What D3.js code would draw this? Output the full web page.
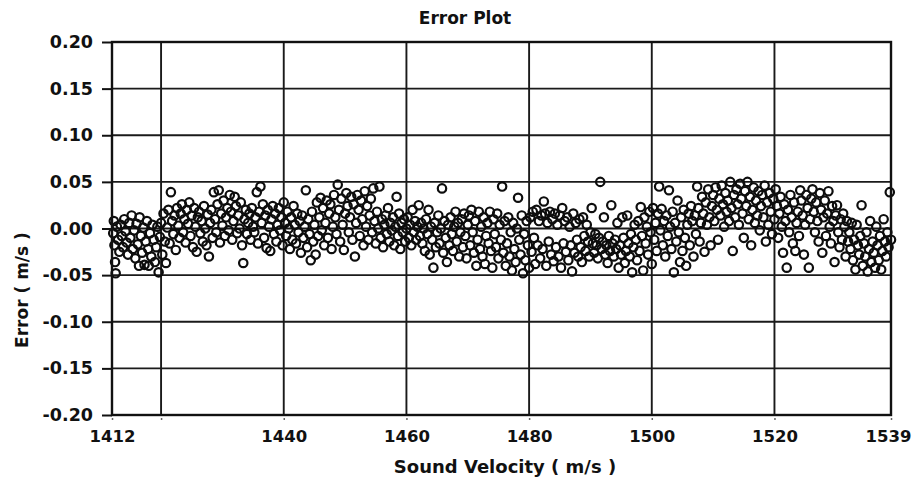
<!DOCTYPE html>
<html>
<head>
<meta charset="utf-8">
<script src="https://cdn.jsdelivr.net/npm/d3@7"></script>
<style>
  body { margin: 0; background: #fff; }
  svg text { font-family: "DejaVu Sans", Verdana, sans-serif; font-weight: bold; fill: #111; }
</style>
</head>
<body>
<svg id="chart" width="914" height="479"></svg>
<script>
// chart text
const chartTitle = "Error Plot";
const xTitle = "Sound Velocity ( m/s )";
const yTitle = "Error ( m/s )";

// axes
const xDomain = [1412, 1539];
const xTickMarks = [1412, 1420, 1440, 1460, 1480, 1500, 1520, 1539];
const xTickLabels = [1412, 1440, 1460, 1480, 1500, 1520, 1539];
const xGrid = [1420, 1440, 1460, 1480, 1500, 1520];
const yTicks = [0.20, 0.15, 0.10, 0.05, 0.00, -0.05, -0.10, -0.15, -0.20];

// [sound velocity, error]
const samples = [
  [1412.2,-0.005],[1412.3,0.008],[1412.4,-0.018],[1412.5,-0.036],[1412.6,-0.048],[1412.8,0.002],[1413.0,-0.012],[1413.2,-0.025],[1413.4,0.004],[1413.6,-0.008],[1413.8,-0.02],[1414.0,0.010],
  [1414.2,-0.003],[1414.4,-0.015],[1414.6,-0.028],[1414.8,0.006],[1415.0,-0.01],[1415.2,0.014],[1415.4,-0.022],[1415.6,-0.002],[1415.8,-0.032],[1416.0,0.005],
  [1416.2,-0.017],[1416.4,-0.04],[1416.5,0.012],[1416.7,-0.008],[1416.9,-0.026],[1417.1,0.001],[1417.3,-0.039],[1417.5,-0.014],[1417.7,0.008],[1417.9,-0.022],[1418.0,-0.04],
  [1418.2,-0.005],[1418.4,-0.03],[1418.6,0.004],[1418.8,-0.012],[1419.0,-0.036],[1419.2,-0.02],[1419.4,0.002],[1419.6,-0.047],[1419.8,-0.009],[1420.0,0.006],
  [1420.2,-0.028],[1420.4,0.016],[1420.6,-0.014],[1420.8,-0.037],[1421.0,0.001],[1421.2,0.02],[1421.4,-0.016],[1421.6,0.039],[1421.8,0.008],[1422.0,-0.006],
  [1422.2,0.014],[1422.4,-0.023],[1422.6,0.022],[1422.8,0.003],[1423.0,-0.01],[1423.2,0.016],[1423.4,0.026],[1423.6,-0.004],[1423.8,0.01],[1424.0,-0.015],
  [1424.2,0.02],[1424.4,0.005],[1424.6,0.028],[1424.8,-0.008],[1425.0,0.014],[1425.2,-0.02],[1425.4,0.022],[1425.6,0.002],[1425.8,-0.025],[1426.0,0.012],
  [1426.2,0.018],[1426.4,-0.005],[1426.6,0.008],[1426.8,-0.014],[1427.0,0.024],[1427.2,0.0],[1427.4,-0.018],[1427.6,0.015],[1427.8,-0.03],[1428.0,0.006],
  [1428.2,0.02],[1428.4,-0.01],[1428.6,0.039],[1428.8,0.01],[1429.0,-0.004],[1429.2,0.026],[1429.4,0.041],[1429.6,-0.015],[1429.8,0.016],[1430.0,0.003],
  [1430.2,0.03],[1430.4,-0.008],[1430.6,0.012],[1430.8,0.022],[1431.0,-0.002],[1431.2,0.036],[1431.4,0.018],[1431.6,-0.012],[1431.8,0.008],[1432.0,0.034],
  [1432.2,0.024],[1432.4,-0.005],[1432.6,0.014],[1432.8,0.0],[1433.0,0.028],[1433.2,-0.018],[1433.4,-0.037],[1433.6,0.01],[1433.8,0.02],[1434.0,-0.006],
  [1434.2,0.006],[1434.4,0.016],[1434.6,-0.012],[1434.8,0.022],[1435.0,0.002],[1435.2,-0.004],[1435.4,0.012],[1435.6,0.039],[1435.8,-0.016],[1436.0,0.018],
  [1436.2,0.045],[1436.4,0.006],[1436.6,0.026],[1436.8,-0.01],[1437.0,0.014],[1437.2,-0.021],[1437.4,0.02],[1437.6,0.002],[1437.8,-0.024],[1438.0,0.01],
  [1438.2,0.024],[1438.4,-0.006],[1438.6,0.016],[1438.8,-0.014],[1439.0,0.004],[1439.2,0.022],[1439.4,-0.002],[1439.6,0.012],[1439.8,-0.018],[1440.0,0.028],
  [1440.2,0.006],[1440.4,-0.008],[1440.6,0.018],[1440.8,0.0],[1441.0,-0.022],[1441.2,0.012],[1441.4,-0.012],[1441.6,0.024],[1441.8,0.004],[1442.0,-0.016],
  [1442.2,0.016],[1442.4,-0.004],[1442.6,0.008],[1442.8,-0.026],[1443.0,0.014],[1443.2,-0.01],[1443.4,0.002],[1443.6,0.041],[1443.8,-0.02],[1444.0,0.01],
  [1444.2,-0.006],[1444.4,-0.034],[1444.6,0.018],[1444.8,-0.014],[1445.0,0.004],[1445.2,-0.028],[1445.4,0.028],[1445.6,-0.008],[1445.8,0.012],[1446.0,0.033],
  [1446.2,-0.002],[1446.4,0.022],[1446.6,-0.018],[1446.8,0.006],[1447.0,0.03],[1447.2,-0.01],[1447.4,0.016],[1447.6,0.026],[1447.8,-0.022],[1448.0,0.002],
  [1448.2,0.036],[1448.4,0.012],[1448.6,-0.006],[1448.8,0.047],[1449.0,0.02],[1449.2,-0.014],[1449.4,0.032],[1449.6,0.004],[1449.8,-0.023],[1450.0,0.016],
  [1450.2,0.038],[1450.4,0.024],[1450.6,-0.004],[1450.8,0.012],[1451.0,0.034],[1451.2,-0.012],[1451.4,0.026],[1451.6,-0.03],[1451.8,0.006],[1452.0,0.036],
  [1452.2,0.02],[1452.4,-0.008],[1452.6,0.03],[1452.8,0.01],[1453.0,-0.018],[1453.2,0.04],[1453.4,0.002],[1453.6,0.024],[1453.8,-0.012],[1454.0,0.014],
  [1454.2,0.032],[1454.4,-0.004],[1454.6,0.043],[1454.8,0.008],[1455.0,-0.016],[1455.2,0.018],[1455.4,0.0],[1455.6,0.045],[1455.8,-0.01],[1456.0,0.01],
  [1456.2,-0.02],[1456.4,0.004],[1456.6,0.014],[1456.8,-0.006],[1457.0,0.022],[1457.2,-0.014],[1457.4,0.006],[1457.6,-0.002],[1457.8,0.012],[1458.0,-0.018],
  [1458.2,0.002],[1458.4,0.034],[1458.6,-0.008],[1458.8,0.016],[1459.0,-0.022],[1459.2,0.006],[1459.4,-0.004],[1459.6,0.01],[1459.8,-0.014],[1460.0,0.0],
  [1460.2,0.012],[1460.4,-0.01],[1460.6,0.004],[1460.8,-0.018],[1461.0,0.02],[1461.2,-0.004],[1461.4,0.008],[1461.6,-0.012],[1461.8,0.002],[1462.0,0.025],
  [1462.2,-0.008],[1462.4,0.006],[1462.6,-0.016],[1462.8,0.0],[1463.0,-0.024],[1463.2,0.01],[1463.4,-0.006],[1463.6,0.02],[1463.8,-0.028],[1464.0,0.002],
  [1464.2,-0.012],[1464.4,-0.042],[1464.6,0.006],[1464.8,-0.02],[1465.0,-0.004],[1465.2,0.014],[1465.4,-0.016],[1465.6,0.0],[1465.8,0.043],[1466.0,-0.026],
  [1466.2,0.008],[1466.4,-0.01],[1466.6,-0.036],[1466.8,0.004],[1467.0,-0.018],[1467.2,0.012],[1467.4,-0.006],[1467.6,-0.024],[1467.8,0.002],[1468.0,0.018],
  [1468.2,-0.014],[1468.4,0.006],[1468.6,-0.03],[1468.8,-0.004],[1469.0,0.01],[1469.2,-0.02],[1469.4,0.016],[1469.6,-0.008],[1469.8,-0.032],[1470.0,0.004],
  [1470.2,0.014],[1470.4,-0.018],[1470.6,0.02],[1470.8,-0.004],[1471.0,-0.026],[1471.2,0.008],[1471.4,-0.04],[1471.6,-0.012],[1471.8,0.018],[1472.0,-0.022],
  [1472.2,0.002],[1472.4,-0.03],[1472.6,0.012],[1472.8,-0.038],[1473.0,-0.008],[1473.2,0.006],[1473.4,-0.016],[1473.6,0.018],[1473.8,-0.024],[1474.0,-0.042],
  [1474.2,0.01],[1474.4,-0.006],[1474.6,-0.02],[1474.8,0.016],[1475.0,-0.032],[1475.2,0.004],[1475.4,-0.012],[1475.6,0.045],[1475.8,-0.026],[1476.0,0.008],
  [1476.2,-0.04],[1476.4,-0.016],[1476.6,0.012],[1476.8,-0.03],[1477.0,-0.004],[1477.2,-0.045],[1477.4,0.006],[1477.6,-0.022],[1477.8,-0.036],[1478.0,0.0],
  [1478.2,0.033],[1478.4,-0.012],[1478.6,-0.028],[1478.8,0.014],[1479.0,-0.048],[1479.2,-0.006],[1479.4,-0.034],[1479.6,0.008],[1479.8,-0.018],[1480.0,-0.042],
  [1480.2,0.012],[1480.4,-0.025],[1480.6,0.018],[1480.8,-0.01],[1481.0,-0.038],[1481.2,0.02],[1481.4,-0.018],[1481.6,0.008],[1481.8,-0.032],[1482.0,0.014],
  [1482.2,-0.022],[1482.4,0.029],[1482.6,0.016],[1482.8,-0.04],[1483.0,0.006],[1483.2,-0.014],[1483.4,0.018],[1483.6,-0.028],[1483.8,0.01],[1484.0,-0.035],
  [1484.2,0.016],[1484.4,-0.02],[1484.6,0.004],[1484.8,-0.03],[1485.0,0.014],[1485.2,-0.042],[1485.4,0.022],[1485.6,-0.016],[1485.8,0.008],[1486.0,-0.025],
  [1486.2,0.012],[1486.4,-0.034],[1486.6,0.002],[1486.8,-0.018],[1487.0,-0.046],[1487.2,0.016],[1487.4,-0.026],[1487.6,0.006],[1487.8,-0.012],[1488.0,-0.03],
  [1488.2,0.01],[1488.4,-0.02],[1488.6,-0.036],[1488.8,0.012],[1489.0,-0.008],[1489.2,-0.024],[1489.4,0.004],[1489.6,-0.014],[1489.8,-0.03],[1490.0,-0.004],
  [1490.2,0.022],[1490.4,-0.016],[1490.6,-0.026],[1490.8,-0.006],[1491.0,-0.018],[1491.2,-0.032],[1491.4,-0.01],[1491.6,0.05],[1491.8,-0.022],[1492.0,-0.014],
  [1492.2,0.012],[1492.4,-0.028],[1492.6,-0.018],[1492.8,-0.037],[1493.0,-0.008],[1493.2,-0.024],[1493.4,0.025],[1493.6,-0.016],[1493.8,-0.03],[1494.0,-0.012],
  [1494.2,-0.022],[1494.4,0.006],[1494.6,-0.042],[1494.8,-0.018],[1495.0,-0.028],[1495.2,0.012],[1495.4,-0.01],[1495.6,-0.037],[1495.8,-0.024],[1496.0,0.014],
  [1496.2,-0.016],[1496.4,-0.03],[1496.6,-0.006],[1496.8,-0.047],[1497.0,-0.02],[1497.2,0.004],[1497.4,-0.012],[1497.6,-0.034],[1497.8,0.008],[1498.0,-0.024],
  [1498.2,0.023],[1498.4,-0.008],[1498.6,-0.045],[1498.8,0.012],[1499.0,-0.016],[1499.2,0.002],[1499.4,-0.028],[1499.6,0.018],[1499.8,-0.004],[1500.0,-0.038],
  [1500.2,0.022],[1500.4,-0.012],[1500.6,0.006],[1500.8,-0.024],[1501.0,0.016],[1501.2,0.045],[1501.4,-0.002],[1501.6,0.021],[1501.8,-0.018],[1502.0,0.008],
  [1502.2,-0.03],[1502.4,0.014],[1502.6,-0.008],[1502.8,0.041],[1503.0,0.002],[1503.2,-0.022],[1503.4,0.018],[1503.6,-0.047],[1503.8,0.006],[1504.0,-0.014],
  [1504.2,0.03],[1504.4,-0.004],[1504.6,-0.036],[1504.8,0.012],[1505.0,-0.024],[1505.2,0.02],[1505.4,-0.01],[1505.6,-0.04],[1505.8,0.004],[1506.0,0.016],
  [1506.2,-0.018],[1506.4,0.024],[1506.6,0.008],[1506.8,-0.03],[1507.0,0.014],[1507.2,-0.006],[1507.4,0.045],[1507.6,0.022],[1507.8,-0.014],[1508.0,0.006],
  [1508.2,0.034],[1508.4,0.016],[1508.6,-0.025],[1508.8,0.028],[1509.0,0.004],[1509.2,0.042],[1509.4,0.012],[1509.6,-0.018],[1509.8,0.024],[1510.0,0.036],
  [1510.2,0.008],[1510.4,0.044],[1510.6,0.02],[1510.8,-0.012],[1511.0,0.032],[1511.2,0.014],[1511.4,0.046],[1511.6,0.026],[1511.8,0.002],[1512.0,0.038],
  [1512.2,0.018],[1512.4,0.03],[1512.6,0.008],[1512.8,0.05],[1513.0,0.022],[1513.2,-0.024],[1513.4,0.036],[1513.6,0.012],[1513.8,0.042],[1514.0,0.026],
  [1514.2,0.004],[1514.4,0.048],[1514.6,0.032],[1514.8,0.016],[1515.0,-0.01],[1515.2,0.04],[1515.4,0.024],[1515.6,0.05],[1515.8,0.01],[1516.0,0.034],
  [1516.2,-0.018],[1516.4,0.02],[1516.6,0.044],[1516.8,0.006],[1517.0,0.03],[1517.2,0.014],[1517.4,0.04],[1517.6,-0.002],[1517.8,0.024],[1518.0,0.036],
  [1518.2,0.012],[1518.4,0.046],[1518.6,-0.014],[1518.8,0.028],[1519.0,0.004],[1519.2,0.038],[1519.4,0.018],[1519.6,-0.006],[1519.8,0.032],[1520.0,0.01],
  [1520.2,0.042],[1520.4,0.024],[1520.6,-0.01],[1520.8,0.016],[1521.0,0.034],[1521.2,0.002],[1521.4,-0.026],[1521.6,0.026],[1521.8,0.008],[1522.0,-0.042],
  [1522.2,0.02],[1522.4,-0.004],[1522.6,0.036],[1522.8,0.012],[1523.0,-0.016],[1523.2,0.028],[1523.4,-0.024],[1523.6,0.006],[1523.8,0.018],[1524.0,-0.008],
  [1524.2,0.041],[1524.4,0.03],[1524.6,0.014],[1524.8,-0.028],[1525.0,0.004],[1525.2,0.036],[1525.4,0.022],[1525.6,-0.042],[1525.8,0.01],[1526.0,0.032],
  [1526.2,0.042],[1526.4,0.018],[1526.6,-0.004],[1526.8,0.028],[1527.0,0.008],[1527.2,-0.014],[1527.4,0.038],[1527.6,0.02],[1527.8,-0.026],[1528.0,0.012],
  [1528.2,0.03],[1528.4,-0.008],[1528.6,0.016],[1528.8,0.04],[1529.0,0.002],[1529.2,-0.016],[1529.4,0.024],[1529.6,0.008],[1529.8,-0.036],[1530.0,0.014],
  [1530.2,0.025],[1530.4,-0.004],[1530.6,-0.02],[1530.8,0.01],[1531.0,-0.012],[1531.2,0.016],[1531.4,0.002],[1531.6,-0.03],[1531.8,0.008],[1532.0,-0.014],
  [1532.2,-0.004],[1532.4,-0.022],[1532.6,0.006],[1532.8,-0.034],[1533.0,-0.012],[1533.2,-0.044],[1533.4,0.004],[1533.6,-0.018],[1533.8,-0.028],[1534.0,-0.008],
  [1534.2,0.025],[1534.4,-0.04],[1534.6,-0.016],[1534.8,-0.03],[1535.0,-0.004],[1535.2,-0.046],[1535.4,-0.022],[1535.6,0.008],[1535.8,-0.036],[1536.0,-0.014],
  [1536.2,-0.026],[1536.4,-0.042],[1536.6,0.002],[1536.8,-0.018],[1537.0,-0.034],[1537.2,-0.008],[1537.4,-0.044],[1537.6,-0.024],[1537.8,0.01],[1538.0,-0.014],
  [1538.2,-0.03],[1538.4,-0.004],[1538.6,-0.02],[1538.8,0.039],[1539.0,-0.012]
];

const svg = d3.select("#chart");
const margin = { top: 42, right: 23, bottom: 64, left: 112 };
const width = 914, height = 479;

const x = d3.scaleLinear().domain(xDomain).range([margin.left, width - margin.right]);
const y = d3.scaleLinear().domain([-0.20, 0.20]).range([height - margin.bottom, margin.top]);

svg.append("rect").attr("width", width).attr("height", height).attr("fill", "#fff");

// grid
svg.append("g").selectAll("line").data(xGrid).join("line")
    .attr("x1", d => x(d)).attr("x2", d => x(d))
    .attr("y1", y(0.20)).attr("y2", y(-0.20))
    .attr("stroke", "#1a1a1a").attr("stroke-width", 1.9);
svg.append("g").selectAll("line").data(yTicks).join("line")
    .attr("x1", x(xDomain[0])).attr("x2", x(xDomain[1]))
    .attr("y1", d => y(d)).attr("y2", d => y(d))
    .attr("stroke", "#1a1a1a").attr("stroke-width", 1.9);

// points
svg.append("g").selectAll("circle").data(samples).join("circle")
    .attr("cx", d => x(d[0]))
    .attr("cy", d => y(d[1]))
    .attr("r", 4.2)
    .attr("fill", "none")
    .attr("stroke", "#0d0d0d")
    .attr("stroke-width", 2.2);

// frame
svg.append("rect")
    .attr("x", x(xDomain[0])).attr("y", y(0.20))
    .attr("width", x(xDomain[1]) - x(xDomain[0]))
    .attr("height", y(-0.20) - y(0.20))
    .attr("fill", "none").attr("stroke", "#111").attr("stroke-width", 2.4);

// y axis
const yAxis = svg.append("g")
    .attr("transform", `translate(${margin.left},0)`)
    .call(d3.axisLeft(y).tickValues(yTicks).tickSize(10).tickPadding(9)
        .tickFormat(d => d.toFixed(2)));
yAxis.select(".domain").remove();
yAxis.selectAll(".tick line").attr("stroke", "#111").attr("stroke-width", 2);
yAxis.selectAll("text").attr("font-size", 17.5).attr("fill", "#111");

// x axis
const xAxis = svg.append("g")
    .attr("transform", `translate(0,${y(-0.20)})`)
    .call(d3.axisBottom(x).tickValues(xTickMarks).tickSize(5).tickPadding(10)
        .tickFormat(d => xTickLabels.includes(d) ? d : ""));
xAxis.select(".domain").remove();
xAxis.selectAll(".tick line").attr("stroke", "#666").attr("stroke-width", 1.5).attr("y1", 3);
xAxis.selectAll("text").attr("font-size", 16.5).attr("fill", "#111");
xAxis.selectAll(".tick text").filter(d => d === xDomain[1]).attr("dx", -3);

// titles
svg.append("text").attr("x", 465).attr("y", 24).attr("text-anchor", "middle")
    .attr("font-size", 17).text(chartTitle);
svg.append("text").attr("x", 505).attr("y", 473).attr("text-anchor", "middle")
    .attr("font-size", 18).text(xTitle);
svg.append("text").attr("transform", "translate(28,290) rotate(-90)")
    .attr("text-anchor", "middle").attr("font-size", 17).text(yTitle);
</script>
</body>
</html>
